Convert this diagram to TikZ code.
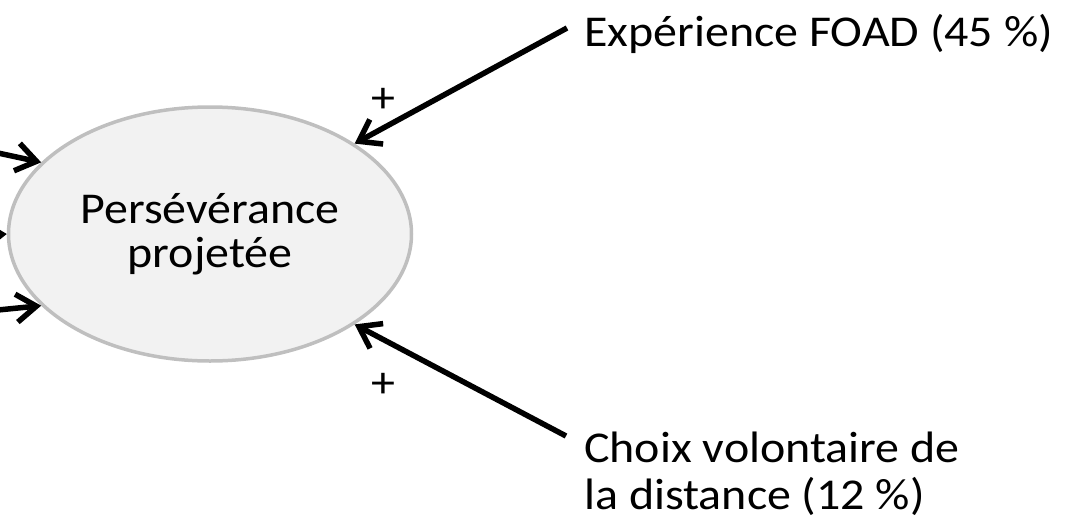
\documentclass[tikz,border=0pt]{standalone}
\usepackage{fontspec}
\setmainfont{Carlito}[FakeStretch=1.09]
\usetikzlibrary{shapes.geometric,arrows.meta}
\definecolor{ellfill}{HTML}{F2F2F2}
\definecolor{elldraw}{HTML}{BFBFBF}
\begin{document}
\begin{tikzpicture}[x=1pt,y=-1pt,
  lbl/.style={inner sep=0pt,font=\fontsize{44}{50}\selectfont},
  conn/.style={line width=5.5pt,-{Straight Barb[length=20pt,width=28pt,line width=5.5pt]}},
  concept/.style={ellipse,draw=elldraw,fill=ellfill,line width=3.5pt,minimum width=403pt,minimum height=254pt,inner sep=0pt,align=center,font=\fontsize{44}{44}\selectfont}]
\useasboundingbox (0,0) rectangle (1066,520);
\clip (0,0) rectangle (1066,520);
\node[concept] (P) at (210,234) {Persévérance\\projetée};
\node[lbl,anchor=base west] (E) at (584,46) {Expérience FOAD (45~\%)};
\node[lbl,anchor=base west] (C1) at (584,462) {Choix volontaire de};
\node[lbl,anchor=base west] (C2) at (584,509) {la distance (12~\%)};
\node[lbl] (p1) at (383,100) {+};
\node[lbl] (p2) at (383,385) {+};
\coordinate (sE) at (567,28);
\coordinate (sC) at (566,436);
\coordinate (sL1) at (-2,153);
\coordinate (sL2) at (-40,237);
\coordinate (sL3) at (-2,310);
\draw[conn] (sE) -- (P.32.5);
\draw[conn] (sC) -- (P.-32.5);
\draw[conn] (sL1) -- (P.157.5);
\draw[conn] (sL2) -- (P.west);
\draw[conn] (sL3) -- (P.-157.5);
\end{tikzpicture}
\end{document}
